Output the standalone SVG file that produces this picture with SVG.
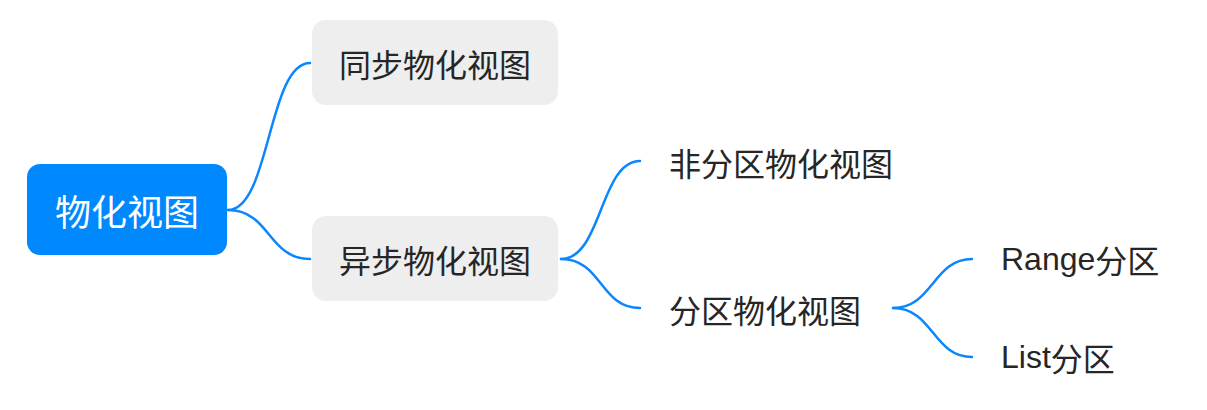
<svg xmlns="http://www.w3.org/2000/svg" width="1207" height="410" viewBox="0 0 1207 410">
<style>
.t{font-family:"Noto Sans CJK SC","Liberation Sans",sans-serif;font-size:32px;fill:#262626;dominant-baseline:central}
.lat{font-family:"Liberation Sans","Noto Sans CJK SC",sans-serif}
.box{fill:#EEEEEE}
.c{fill:none;stroke:#0A86FF;stroke-width:2.5;stroke-linecap:round}
</style>
<rect width="1207" height="410" fill="#FFFFFF"/>
<g id="connectors">
<path class="c" d="M228,210 C 270,210 268,63 310,63"/>
<path class="c" d="M228,210 C 270,210 268,259 310,259"/>
<path class="c" d="M561,259 C 602,259 600,161 640,161"/>
<path class="c" d="M561,259 C 602,259 600,308 640,308"/>
<path class="c" d="M893,308 C 933,308 933,259 972,259"/>
<path class="c" d="M893,308 C 933,308 933,357 972,357"/>
</g>
<g id="root">
<rect x="27" y="164" width="200" height="91" rx="13" fill="#0088FF"/>
<text class="t" x="127" y="210" text-anchor="middle" style="font-size:36px;fill:#FFFFFF">物化视图</text>
</g>
<g id="sync">
<rect class="box" x="312" y="20" width="246" height="85" rx="14"/>
<text class="t" x="435" y="63" text-anchor="middle">同步物化视图</text>
</g>
<g id="async">
<rect class="box" x="312" y="216" width="246" height="85" rx="14"/>
<text class="t" x="435" y="259" text-anchor="middle">异步物化视图</text>
</g>
<g id="nonpart">
<text class="t" x="669" y="162">非分区物化视图</text>
</g>
<g id="part">
<text class="t" x="669" y="309">分区物化视图</text>
</g>
<g id="range">
<text class="t" x="1001" y="259"><tspan class="lat">Range</tspan>分区</text>
</g>
<g id="list">
<text class="t" x="1001" y="357"><tspan class="lat">List</tspan>分区</text>
</g>
</svg>
